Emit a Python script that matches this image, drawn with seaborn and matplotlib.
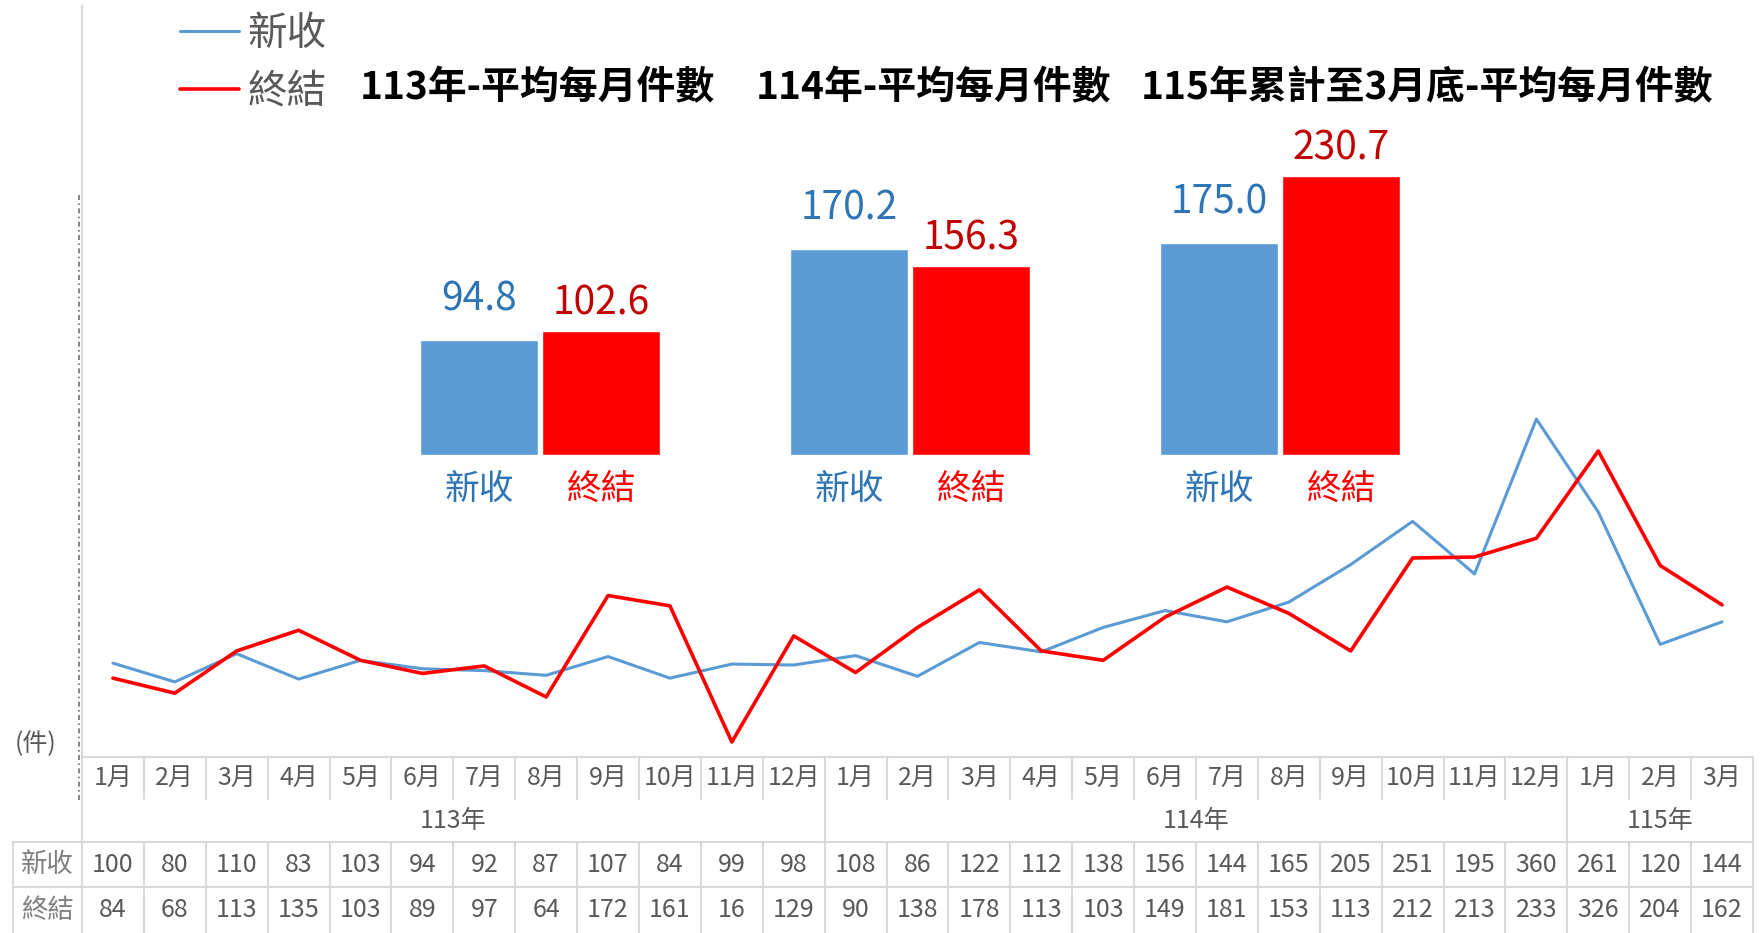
import pandas as pd
import numpy as np
import matplotlib.pyplot as plt
import seaborn as sns
from matplotlib.lines import Line2D

# 月份、年度
months = ["1月", "2月", "3月", "4月", "5月", "6月", "7月", "8月", "9月", "10月", "11月", "12月",
          "1月", "2月", "3月", "4月", "5月", "6月", "7月", "8月", "9月", "10月", "11月", "12月",
          "1月", "2月", "3月"]
years = ["113年", "114年", "115年"]
year_len = [12, 12, 3]

# 每月件數
new_cases = [100, 80, 110, 83, 103, 94, 92, 87, 107, 84, 99, 98,
             108, 86, 122, 112, 138, 156, 144, 165, 205, 251, 195, 360,
             261, 120, 144]
closed_cases = [84, 68, 113, 135, 103, 89, 97, 64, 172, 161, 16, 129,
                90, 138, 178, 113, 103, 149, 181, 153, 113, 212, 213, 233,
                326, 204, 162]

# 平均每月件數
avg_years = ["113年", "114年", "115年"]
avg_new = [94.8, 170.2, 175.0]
avg_closed = [102.6, 156.3, 230.7]
titles = ["113年-平均每月件數", "114年-平均每月件數", "115年累計至3月底-平均每月件數"]

sns.set_style("white")
plt.rcParams['font.family'] = ['Noto Sans CJK TC', 'DejaVu Sans']

BLUE = "#5B9BD5"
RED = "#FF0000"
GREY = "#595959"
GRID = "#D9D9D9"

W, H = 1760, 933
fig = plt.figure(figsize=(W / 100, H / 100), dpi=100)


def box(x0, y0, x1, y1):
    # pixel box (from top-left) -> figure fraction rect
    return [x0 / W, 1 - y1 / H, (x1 - x0) / W, (y1 - y0) / H]


# 折線圖
ax = fig.add_axes(box(82, 6, 1753, 757))
df = pd.DataFrame({"idx": np.arange(len(months)), "新收": new_cases, "終結": closed_cases})
sns.lineplot(data=df, x="idx", y="新收", color=BLUE, lw=2.2, ax=ax, label="新收")
sns.lineplot(data=df, x="idx", y="終結", color=RED, lw=2.6, ax=ax, label="終結")
ax.set_xlim(-0.5, len(months) - 0.5)
ax.set_ylim(0, 800)
ax.set_yticks(range(0, 801, 200))
ax.set_yticks(range(0, 801, 50), minor=True)
ax.set_yticklabels([])
ax.set_xticks([])
ax.set_xlabel("")
ax.set_ylabel("")
ax.tick_params(axis="y", which="major", direction="inout", length=14, color=GRID, width=1.5)
ax.tick_params(axis="y", which="minor", direction="in", length=6, color=GRID, width=1.5)
for s in ["top", "right", "bottom"]:
    ax.spines[s].set_visible(False)
ax.spines["left"].set_color(GRID)
ax.spines["left"].set_linewidth(1.5)

ax.legend(loc="upper left", bbox_to_anchor=(180 / W, 1 - 14 / H), bbox_transform=fig.transFigure,
          fontsize=28.5, handlelength=1.5, handletextpad=0.2, labelspacing=0.45,
          frameon=False, borderpad=0, borderaxespad=0, labelcolor=GREY)

# 虛線
fig.add_artist(Line2D([79 / W, 79 / W], [1 - 195 / H, 1 - 800 / H], transform=fig.transFigure,
                      color="#707070", lw=1.2, ls=(0, (3, 2, 1, 2))))

# 標題
for t, xc in zip(titles, [537, 933, 1427]):
    fig.text(xc / W, 1 - 88 / H, t, ha="center", va="center", fontsize=28,
             fontweight="bold", color="black")

fig.text(36 / W, 1 - 744 / H, "(件)", ha="center", va="center", fontsize=18, color=GREY)

# 平均每月件數長條圖
bar_df = pd.DataFrame({"year": avg_years * 2,
                       "series": ["新收"] * 3 + ["終結"] * 3,
                       "value": avg_new + avg_closed})
ax_in = fig.add_axes(box(355, 92, 1465, 455))
sns.barplot(data=bar_df, x="year", y="value", hue="series", palette=[BLUE, RED],
            width=0.66, gap=0.03, saturation=1, legend=False, ax=ax_in)
ax_in.set_xlim(-0.5, 2.5)
ax_in.set_ylim(0, 300)
ax_in.axis("off")

label_colors = ["#2E75B6", "#C00000"]
name_colors = ["#2E75B6", RED]
paddings = [15, 5]
for cont, name, vals, lc, nc, pad in zip(ax_in.containers, ["新收", "終結"], [avg_new, avg_closed],
                                         label_colors, name_colors, paddings):
    ax_in.bar_label(cont, labels=[f"{v:.1f}" for v in vals], padding=pad,
                    color=lc, fontsize=28)
    for bar in cont:
        ax_in.annotate(name, (bar.get_x() + bar.get_width() / 2, 0), xytext=(0, -25),
                       textcoords="offset points", ha="center", va="center",
                       color=nc, fontsize=25, annotation_clip=False)

# 資料表
ax_t = fig.add_axes(box(13, 757, 1753, 933))
left = -0.5 - 69 / 61.9
right = len(months) - 0.5
ax_t.set_xlim(left, right)
ax_t.set_ylim(176, 0)
ax_t.axis("off")
r0, r1, r2, r3, r4 = 0, 42, 85, 130, 176

lk = dict(color=GRID, lw=1.5, clip_on=False)
ax_t.plot([-0.5, right], [r0, r0], **lk)
ax_t.plot([left, right], [r2, r2], **lk)
ax_t.plot([left, right], [r3, r3], **lk)
ax_t.plot([-0.5, -0.5], [r0, r4], **lk)
ax_t.plot([left, left], [r2, r4], **lk)
ax_t.plot([right, right], [r0, r4], **lk)

group_edges = np.cumsum(year_len)[:-1] - 0.5
for k in np.arange(len(months) - 1) + 0.5:
    ax_t.plot([k, k], [r0, r1], **lk)
    ax_t.plot([k, k], [r2, r4], **lk)
    if k in group_edges:
        ax_t.plot([k, k], [r1, r2], **lk)

fs = 18
for i, m in enumerate(months):
    ax_t.text(i, (r0 + r1) / 2, m, ha="center", va="center", fontsize=fs, color=GREY)
    ax_t.text(i, (r2 + r3) / 2, str(new_cases[i]), ha="center", va="center", fontsize=fs, color=GREY)
    ax_t.text(i, (r3 + r4) / 2, str(closed_cases[i]), ha="center", va="center", fontsize=fs, color=GREY)

start = 0
for y, n in zip(years, year_len):
    ax_t.text(start + n / 2 - 0.5, (r1 + r2) / 2, y, ha="center", va="center", fontsize=fs, color=GREY)
    start += n

hx = (left - 0.5) / 2
ax_t.text(hx, (r2 + r3) / 2, "新收", ha="center", va="center", fontsize=19, color="#7F7F7F")
ax_t.text(hx, (r3 + r4) / 2, "終結", ha="center", va="center", fontsize=19, color="#7F7F7F")

fig.savefig("out.png", dpi=100)
